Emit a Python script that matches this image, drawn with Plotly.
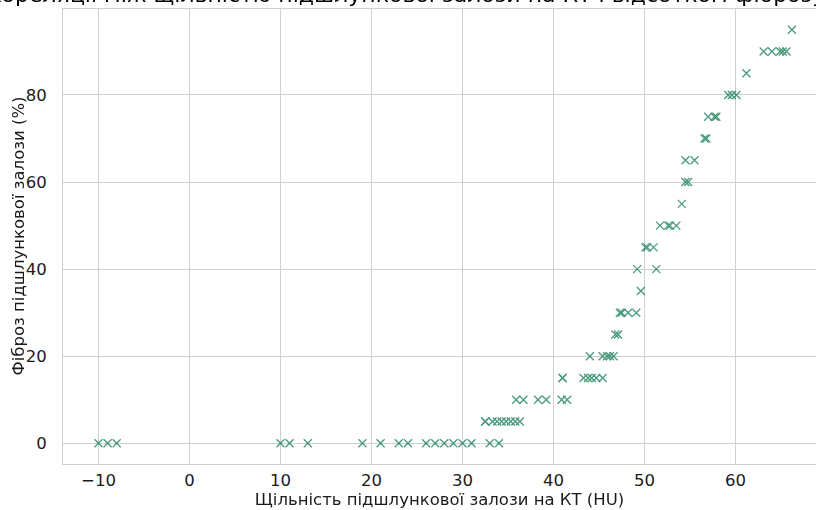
import plotly.graph_objects as go

# Data
density_hu = [
    -10, -9, -8, 10, 11, 13, 19, 21, 23, 24, 26, 27, 28, 29, 30, 31, 33, 34,
    32.5, 32.5, 33.3, 33.8, 34.3, 34.8, 35.3, 35.8, 36.3,
    35.9, 36.7, 38.3, 39.2, 40.9, 41.5,
    41, 41, 43.3, 43.8, 44.2, 44.7, 45.4,
    44, 45.4, 45.9, 46.2, 46.6,
    46.8, 47.1,
    47.3, 47.5, 48.2, 49.1,
    49.6,
    49.2, 51.3,
    50.1, 50.3, 51.0,
    51.7, 52.6, 52.8, 53.5,
    54.1,
    54.5, 54.8,
    54.5, 55.5,
    56.6, 56.8,
    57.0, 57.7, 57.9,
    59.2, 59.6, 60.1,
    61.2,
    63.1, 64.0, 64.9, 65.2, 65.6,
    66.2,
]
fibrosis_pct = (
    [0] * 18 + [5] * 9 + [10] * 6 + [15] * 7 + [20] * 5 + [25] * 2 + [30] * 4 + [35]
    + [40] * 2 + [45] * 3 + [50] * 4 + [55] + [60] * 2 + [65] * 2 + [70] * 2
    + [75] * 3 + [80] * 3 + [85] + [90] * 5 + [95]
)

x_ticks = [-10, 0, 10, 20, 30, 40, 50, 60]
y_ticks = [0, 20, 40, 60, 80]

title_text = "Кореляції між щільністю підшлункової залози на КТ і відсотком фіброзу"
x_title = "Щільність підшлункової залози на КТ (HU)"
y_title = "Фіброз підшлункової залози (%)"

FONT = "DejaVu Sans"
GRID = "#cfcfcf"
FS = 16.5

fig = go.Figure()
fig.add_trace(go.Scatter(
    x=density_hu, y=fibrosis_pct, mode="markers",
    marker=dict(symbol="x-thin", size=8, color="rgb(0,115,72)",
                line=dict(width=1.3, color="rgb(0,115,72)")),
    opacity=0.72, showlegend=False,
))

fig.update_layout(
    width=816, height=510,
    margin=dict(l=63, r=0, t=9, b=46),
    plot_bgcolor="white", paper_bgcolor="white",
    font=dict(family=FONT, size=FS, color="#1a1a1a"),
    xaxis=dict(range=[-13.9, 68.85], tickvals=x_ticks, showgrid=True, gridcolor=GRID,
               gridwidth=1, zeroline=False, showline=True, linecolor=GRID, mirror=True,
               ticks="", ticklen=0, ticklabelstandoff=1,
               tickfont=dict(size=FS, color="#1a1a1a"),
               title=dict(text=x_title, standoff=1, font=dict(size=FS))),
    yaxis=dict(range=[-4.75, 99.75], tickvals=y_ticks, showgrid=True, gridcolor=GRID,
               gridwidth=1, zeroline=False, showline=True, linecolor=GRID, mirror=False,
               ticks="", ticklen=0, ticklabelstandoff=12,
               tickfont=dict(size=FS, color="#1a1a1a")),
    annotations=[
        dict(text=title_text, xref="paper", yref="paper", x=0, y=1,
             xanchor="left", yanchor="bottom", xshift=-79, yshift=0,
             showarrow=False, font=dict(family=FONT, size=22, color="#000000")),
        dict(text=y_title, xref="paper", yref="paper", x=0, y=0.5,
             xanchor="center", yanchor="middle", xshift=-45, textangle=-90,
             showarrow=False, font=dict(family=FONT, size=FS, color="#1a1a1a")),
    ],
)

fig.write_html("out.html")
